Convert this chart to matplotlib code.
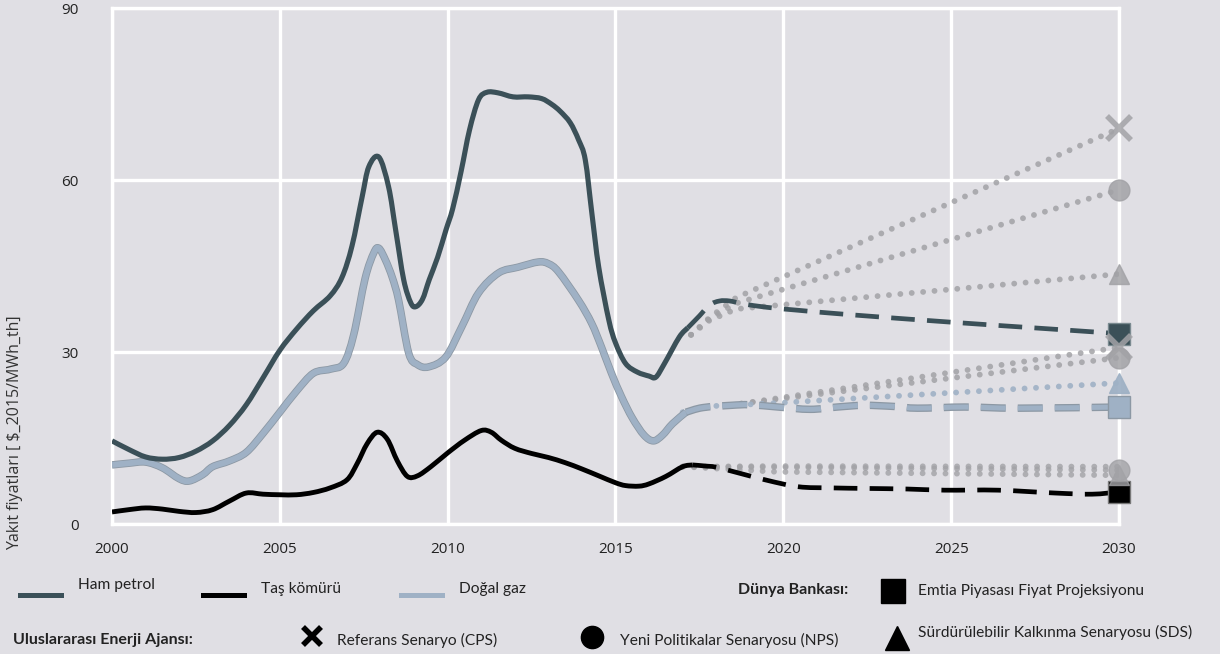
import matplotlib
matplotlib.use("Agg")
import matplotlib.pyplot as plt
import matplotlib.patheffects as pe
from matplotlib.lines import Line2D
from matplotlib.path import Path
from matplotlib.patches import PathPatch

plt.rcParams['font.family'] = ['Open Sans', 'DejaVu Sans']

# --- historical prices ($_2015/MWh_th) ---
oil_years = [2000, 2000.5, 2001, 2001.5, 2002, 2002.5, 2003, 2003.5, 2004, 2004.5, 2005, 2005.5,
             2006, 2006.5, 2006.85, 2007.15, 2007.45, 2007.65, 2007.95, 2008.24, 2008.45, 2008.69,
             2008.9, 2009.05, 2009.25, 2009.45, 2009.7, 2009.95, 2010.15, 2010.4, 2010.65, 2010.92,
             2011.17, 2011.5, 2011.95, 2012.4, 2012.8, 2013.1, 2013.35, 2013.65, 2013.9, 2014.1,
             2014.3, 2014.5, 2014.8, 2015.0, 2015.3, 2015.65, 2016.0, 2016.2, 2016.45, 2016.9, 2017.15]
oil = [14.5, 13.0, 11.7, 11.3, 11.6, 12.7, 14.5, 17.2, 20.8, 25.5, 30.3, 34.0,
       37.2, 39.8, 43.0, 48.5, 57.0, 62.3, 64.0, 58.8, 51.3, 42.6,
       38.6, 37.9, 39.2, 42.6, 46.5, 51.3, 55.0, 61.5, 68.7, 74.0,
       75.3, 75.2, 74.5, 74.5, 74.2, 73.2, 72.0, 70.0, 67.0, 63.5,
       54.0, 44.8, 35.6, 31.6, 28.0, 26.5, 25.8, 25.6, 27.9, 32.6, 34.2]

gas_years = [2000, 2000.5, 2001, 2001.5, 2002, 2002.3, 2002.7, 2003, 2003.5, 2004, 2004.5, 2005,
             2005.5, 2006, 2006.5, 2006.9, 2007.2, 2007.54, 2007.8, 2007.95, 2008.15, 2008.35,
             2008.54, 2008.84, 2009.1, 2009.43, 2009.94, 2010.42, 2010.92, 2011.52, 2012.1, 2012.7,
             2013.0, 2013.3, 2013.9, 2014.29, 2014.58, 2014.88, 2015.18, 2015.5, 2015.85, 2016.13,
             2016.4, 2016.7, 2017.1]
gas = [10.3, 10.6, 10.8, 9.8, 7.9, 7.5, 8.6, 10.0, 11.0, 12.5, 15.8, 19.5,
       23.2, 26.3, 27.0, 28.0, 33.0, 42.8, 47.3, 48.1, 46.0, 43.0,
       39.0, 29.8, 27.8, 27.4, 29.1, 34.4, 40.3, 43.8, 44.8, 45.7,
       45.4, 44.0, 39.0, 35.0, 30.9, 26.3, 22.2, 18.5, 15.5, 14.5,
       15.5, 17.5, 19.5]

coal_years = [2000, 2000.5, 2001, 2001.5, 2002, 2002.5, 2003, 2003.5, 2004, 2004.5, 2005, 2005.5,
              2006, 2006.5, 2007, 2007.3, 2007.6, 2007.9, 2008.2, 2008.5, 2008.8, 2009.1, 2009.5,
              2010, 2010.5, 2011, 2011.3, 2011.6, 2012, 2012.5, 2013, 2013.5, 2014, 2014.5, 2015,
              2015.3, 2015.7, 2016, 2016.5, 2017, 2017.3]
coal = [2.1, 2.5, 2.8, 2.6, 2.2, 2.0, 2.5, 4.0, 5.4, 5.2, 5.1, 5.1,
        5.5, 6.3, 7.7, 10.5, 14.0, 16.0, 14.8, 11.0, 8.3, 8.4, 10.0,
        12.4, 14.6, 16.3, 16.0, 14.6, 13.2, 12.3, 11.6, 10.7, 9.6, 8.4, 7.2,
        6.7, 6.6, 7.0, 8.3, 10.0, 10.3]

# --- World Bank commodity price projection ---
oil_wb_years = [2017.15, 2017.5, 2017.8, 2018.1, 2018.4, 2018.8, 2019.5, 2020.4, 2022, 2025, 2028, 2030]
oil_wb = [34.2, 36.3, 38.2, 38.9, 38.9, 38.4, 37.8, 37.3, 36.5, 35.2, 34.0, 33.2]
gas_wb_years = [2017.1, 2017.6, 2018.45, 2019.0, 2019.85, 2020.8, 2021.6, 2022.4, 2023.3, 2024.0,
                2025.4, 2027, 2030]
gas_wb = [19.5, 20.3, 20.7, 20.8, 20.4, 20.0, 20.4, 20.7, 20.5, 20.2, 20.4, 20.2, 20.4]
coal_wb_years = [2017.3, 2017.7, 2018.07, 2019.46, 2020.45, 2021.4, 2022.5, 2023.7, 2024.8, 2026.4,
                 2028.1, 2029.2, 2030]
coal_wb = [10.3, 10.1, 9.8, 7.7, 6.5, 6.3, 6.2, 6.1, 5.9, 5.9, 5.4, 5.2, 5.6]

# --- IEA scenarios (CPS, NPS, SDS) ---
oil_iea_years = [2017.25, 2017.8, 2018.6, 2030]
oil_cps = [33.0, 36.0, 39.5, 69.0]
oil_nps = [33.0, 35.8, 38.5, 58.3]
oil_sds = [33.0, 35.5, 37.5, 43.6]
gas_iea_years = [2018.75, 2030]
gas_cps = [21.0, 30.8]
gas_nps = [21.0, 29.0]
gas_sds_years = [2017.0, 2018.0, 2019.5, 2030]
gas_sds = [19.5, 20.6, 21.0, 24.6]
coal_iea_years = [2017.0, 2019.8, 2030]
coal_cps = [10.0, 10.1, 10.0]
coal_nps = [10.0, 9.9, 9.4]
coal_sds = [10.0, 9.1, 8.5]

OIL = '#3b5058'
GAS = '#9fb1c5'
COAL = '#000000'
GREY = '#a2a2a6'
BG = '#e0dfe4'


def smooth(xs, ys):
    # Excel-like smoothed line through the points (Catmull-Rom as cubic Beziers)
    pts = list(zip(xs, ys))
    n = len(pts)
    verts, codes = [pts[0]], [Path.MOVETO]
    for i in range(n - 1):
        p0 = pts[i - 1] if i > 0 else pts[i]
        p1, p2 = pts[i], pts[i + 1]
        p3 = pts[i + 2] if i + 2 < n else pts[i + 1]
        c1 = (p1[0] + (p2[0] - p0[0]) / 6, p1[1] + (p2[1] - p0[1]) / 6)
        c2 = (p2[0] - (p3[0] - p1[0]) / 6, p2[1] - (p3[1] - p1[1]) / 6)
        verts += [c1, c2, p2]
        codes += [Path.CURVE4] * 3
    return Path(verts, codes)


def curve(ax, xs, ys, **kw):
    ax.add_patch(PathPatch(smooth(xs, ys), fill=False, capstyle='butt', joinstyle='round', **kw))


fig = plt.figure(figsize=(12.2, 6.54), dpi=100, facecolor=BG)
ax = fig.add_axes([112 / 1220, 1 - 524 / 654, 1007 / 1220, 516 / 654])
ax.set_facecolor(BG)

gas_fx = [pe.Stroke(linewidth=5.4, foreground='#8c98a4'), pe.Normal()]
dot = dict(linestyle=(0, (0.01, 1.95)), dash_capstyle='round', lw=4.2)

# IEA dotted scenario lines
for vals in (oil_cps, oil_nps, oil_sds):
    ax.plot(oil_iea_years, vals, color=GREY, alpha=0.85, zorder=2, **dot)
for vals in (gas_cps, gas_nps):
    ax.plot(gas_iea_years, vals, color=GREY, alpha=0.85, zorder=2, **dot)
ax.plot(gas_sds_years, gas_sds, color=GAS, alpha=0.9, zorder=2, **dot)
for vals in (coal_cps, coal_nps, coal_sds):
    ax.plot(coal_iea_years, vals, color=GREY, alpha=0.8, zorder=2, **dot)

# historical
curve(ax, oil_years, oil, edgecolor=OIL, lw=3.7, zorder=4)
curve(ax, coal_years, coal, edgecolor=COAL, lw=3.5, zorder=4)
curve(ax, gas_years, gas, edgecolor=GAS, lw=4.2, zorder=3, path_effects=gas_fx)

# World Bank projection
curve(ax, oil_wb_years, oil_wb, edgecolor=OIL, lw=3.4, linestyle=(0, (5, 2.6)), zorder=4)
curve(ax, coal_wb_years, coal_wb, edgecolor=COAL, lw=3.4, linestyle=(0, (5, 2.6)), zorder=4)
curve(ax, gas_wb_years, gas_wb, edgecolor=GAS, lw=3.6, linestyle=(0, (5, 2.4)), zorder=3,
      path_effects=gas_fx)

# end markers 2030
ax.plot(oil_wb_years[-1], oil_wb[-1], 's', ms=16, color=OIL, mec='#7a8a90', zorder=5, clip_on=False)
ax.plot(gas_wb_years[-1], gas_wb[-1], 's', ms=16, color=GAS, mec='#8c98a4', zorder=5, clip_on=False)
ax.plot(coal_wb_years[-1], coal_wb[-1], 's', ms=16, color=COAL, mec='#777777', zorder=5, clip_on=False)
ax.plot(oil_iea_years[-1], oil_cps[-1], 'x', ms=17, mew=4, color=GREY, alpha=0.85, zorder=6, clip_on=False)
ax.plot(oil_iea_years[-1], oil_nps[-1], 'o', ms=15, color=GREY, alpha=0.85, zorder=6, clip_on=False)
ax.plot(oil_iea_years[-1], oil_sds[-1], '^', ms=15, color=GREY, alpha=0.85, zorder=6, clip_on=False)
ax.plot(gas_iea_years[-1], gas_cps[-1], 'x', ms=17, mew=4, color=GREY, alpha=0.85, zorder=6, clip_on=False)
ax.plot(gas_iea_years[-1], gas_nps[-1], 'o', ms=15, color=GREY, alpha=0.85, zorder=6, clip_on=False)
ax.plot(gas_sds_years[-1], gas_sds[-1], '^', ms=15, color=GAS, alpha=0.95, zorder=6, clip_on=False)
ax.plot(coal_iea_years[-1], coal_sds[-1], '^', ms=15, color=GREY, alpha=0.8, zorder=6, clip_on=False)
ax.plot(coal_iea_years[-1], coal_nps[-1], 'o', ms=15, color=GREY, alpha=0.8, zorder=6, clip_on=False)

ax.set_xlim(2000, 2030)
ax.set_ylim(0, 90)
ax.set_xticks(range(2000, 2031, 5))
ax.set_yticks([0, 30, 60, 90])
ax.grid(True, color='white', lw=2.4, zorder=1)
for s in ax.spines.values():
    s.set_color('white')
    s.set_linewidth(2.4)
    s.set_zorder(1)
ax.tick_params(length=0, labelsize=11, labelcolor='#222222')
ax.tick_params(axis='y', pad=24)
ax.tick_params(axis='x', pad=13)

fig.text(15 / 1220, 1 - 433 / 654, 'Yakıt fiyatları [ \\$_2015/MWh_th]', rotation=90,
         ha='center', va='center', fontsize=11.5, color='#333333')

# legend area in pixel coordinates
lax = fig.add_axes([0, 0, 1, 1], facecolor='none')
lax.set_xlim(0, 1220)
lax.set_ylim(654, 0)
lax.axis('off')

lfont = dict(fontsize=11.2, color='#222222', va='center', family=['Lato', 'DejaVu Sans'])
bfont = dict(lfont, fontsize=11.5, fontweight='bold')
for x0, col, label, ty in [(20, OIL, 'Ham petrol', 585), (203, COAL, 'Taş kömürü', 589),
                           (401, GAS, 'Doğal gaz', 589)]:
    lax.add_line(Line2D([x0, x0 + 41], [595, 595], color=col, lw=3.6))
    lax.text(x0 + 58, ty, label, **lfont)

lax.text(848, 590, 'Dünya Bankası:', ha='right', **bfont)
lax.plot(893, 591, 's', ms=17, color='black')
lax.text(918, 591, 'Emtia Piyasası Fiyat Projeksiyonu', **lfont)

lax.text(13, 640, 'Uluslararası Enerji Ajansı:', **bfont)
lax.plot(312, 636, 'x', ms=13, mew=4, color='black')
lax.text(337, 640, 'Referans Senaryo (CPS)', **lfont)
lax.plot(592, 637, 'o', ms=16, color='black')
lax.text(620, 640, 'Yeni Politikalar Senaryosu (NPS)', **lfont)
lax.plot(897, 638, '^', ms=17, color='black')
lax.text(918, 632, 'Sürdürülebilir Kalkınma Senaryosu (SDS)', **lfont)

fig.savefig('out.png', dpi=100, facecolor=BG)
